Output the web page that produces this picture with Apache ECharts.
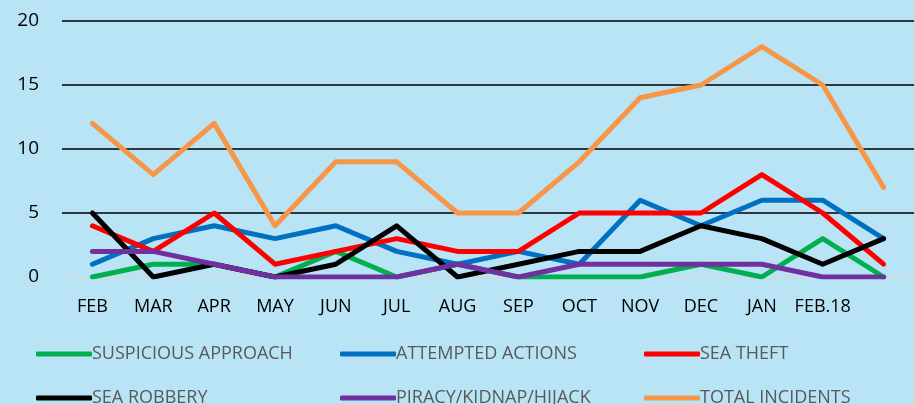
<!DOCTYPE html>
<html>
<head>
<meta charset="utf-8">
<script src="https://cdn.jsdelivr.net/npm/echarts@6/dist/echarts.min.js"></script>
<style>
  html, body { margin: 0; padding: 0; background: #b9e4f6; }
  #chart { width: 914px; height: 404px; }
</style>
</head>
<body>
<div id="chart"></div>
<script>
// categories (last point has no label)
var months = ['FEB', 'MAR', 'APR', 'MAY', 'JUN', 'JUL', 'AUG', 'SEP', 'OCT', 'NOV', 'DEC', 'JAN', 'FEB.18', ''];
var yTicks = [0, 5, 10, 15, 20];

var suspicious = [0, 1, 1, 0, 2, 0, 1, 0, 0, 0, 1, 0, 3, 0];
var attempted  = [1, 3, 4, 3, 4, 2, 1, 2, 1, 6, 4, 6, 6, 3];
var seaTheft   = [4, 2, 5, 1, 2, 3, 2, 2, 5, 5, 5, 8, 5, 1];
var seaRobbery = [5, 0, 1, 0, 1, 4, 0, 1, 2, 2, 4, 3, 1, 3];
var piracy     = [2, 2, 1, 0, 0, 0, 1, 0, 1, 1, 1, 1, 0, 0];
var total      = [12, 8, 12, 4, 9, 9, 5, 5, 9, 14, 15, 18, 15, 7];

var seriesDefs = [
    ['SUSPICIOUS APPROACH', suspicious, '#00b050'],
    ['ATTEMPTED ACTIONS', attempted, '#0070c0'],
    ['SEA THEFT', seaTheft, '#ff0000'],
    ['SEA ROBBERY', seaRobbery, '#000000'],
    ['PIRACY/KIDNAP/HIJACK', piracy, '#7030a0'],
    ['TOTAL INCIDENTS', total, '#f79646']
];

var series = seriesDefs.map(function (d) {
    return {
        name: d[0],
        type: 'line',
        data: d[1],
        symbol: 'none',
        color: d[2],
        lineStyle: { width: 5, color: d[2], cap: 'round', join: 'round' },
        emphasis: { disabled: true },
        animation: false
    };
});

// one legend per column, two rows each
function legendCol(left, names) {
    return {
        orient: 'vertical',
        left: left,
        top: 345,
        height: 100,
        padding: 0,
        itemGap: 26,
        itemWidth: 56,
        itemHeight: 5,
        icon: 'roundRect',
        data: names,
        selectedMode: false,
        textStyle: {
            color: '#595959',
            fontSize: 18,
            fontFamily: '"Open Sans", sans-serif',
            padding: [0, 0, 0, -5]
        }
    };
}

var chart = echarts.init(document.getElementById('chart'));
chart.setOption({
    backgroundColor: '#b9e4f6',
    grid: { left: 62, right: -9, top: 21, bottom: 127 },
    legend: [
        legendCol(36, [seriesDefs[0][0], seriesDefs[3][0]]),
        legendCol(340, [seriesDefs[1][0], seriesDefs[4][0]]),
        legendCol(644, [seriesDefs[2][0], seriesDefs[5][0]])
    ],
    xAxis: {
        type: 'category',
        data: months,
        boundaryGap: true,
        axisLine: { show: false },
        axisTick: { show: false },
        axisLabel: {
            interval: 0,
            margin: 21,
            color: '#000',
            fontSize: 18,
            fontFamily: '"Open Sans", sans-serif'
        }
    },
    yAxis: {
        type: 'value',
        min: yTicks[0],
        max: yTicks[yTicks.length - 1],
        interval: 5,
        axisLine: { show: false },
        axisTick: { show: false },
        axisLabel: {
            margin: 23,
            color: '#000',
            fontSize: 19,
            fontFamily: '"Open Sans", sans-serif'
        },
        splitLine: {
            lineStyle: { color: ['#d9d9d9', '#000', '#000', '#000', '#000'], width: 1.5 }
        }
    },
    series: series
});
</script>
</body>
</html>
